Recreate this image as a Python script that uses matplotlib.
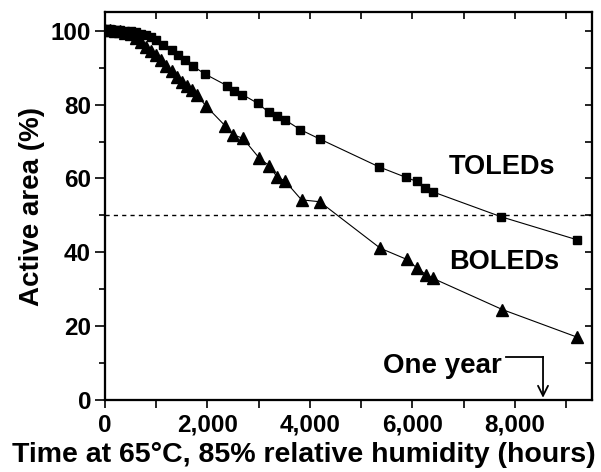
import matplotlib
matplotlib.use("Agg")
import matplotlib.pyplot as plt
from matplotlib.ticker import MultipleLocator, FuncFormatter

plt.rcParams['font.family'] = ['Liberation Sans', 'DejaVu Sans']
plt.rcParams['font.weight'] = 'bold'

# TOLED (squares)
toled_hours = [0, 100, 200, 300, 400, 500, 600, 700, 800, 900, 1000, 1136, 1300, 1429,
               1559, 1721, 1949, 2384, 2520, 2684, 2988, 3197, 3359, 3509, 3815, 4205,
               5355, 5873, 6086, 6253, 6394, 7737, 9212]
toled_area = [100.5, 100.5, 100.3, 100.1, 100.0, 99.8, 99.6, 99.2, 98.8, 98.3, 97.5, 96.2,
              94.9, 93.5, 92.1, 90.4, 88.3, 85.1, 83.6, 82.7, 80.3, 77.9, 76.8, 75.9, 73.2,
              70.6, 63.1, 60.3, 59.2, 57.5, 56.4, 49.6, 43.4]

# BOLED (triangles)
boled_hours = [0, 100, 200, 300, 400, 500, 600, 700, 800, 900, 1000, 1100, 1200, 1300,
               1400, 1500, 1600, 1700, 1800, 1979, 2349, 2505, 2690, 3012, 3210, 3363, 3509,
               3836, 4191, 5374, 5887, 6086, 6273, 6394, 7756, 9220]
boled_area = [100.3, 100.2, 100.0, 99.8, 99.5, 99.0, 98.0, 97.0, 95.5, 94.5, 93.3, 92.0,
              90.5, 89.0, 87.5, 86.0, 85.0, 84.0, 82.5, 79.5, 74.2, 71.8, 70.9, 65.5, 63.4,
              60.3, 59.4, 54.2, 53.7, 41.1, 38.1, 35.8, 33.9, 33.0, 24.5, 17.0]

x_ticks = [0, 2000, 4000, 6000, 8000]
y_ticks = [0, 20, 40, 60, 80, 100]
half_life = 50
one_year = 8550

fig = plt.figure(figsize=(6.01, 4.72), dpi=100)
ax = fig.add_axes([0.1747, 0.1525, 0.8098, 0.8215])

ax.plot(toled_hours, toled_area, color='black', lw=0.8, zorder=2)
ax.plot(toled_hours, toled_area, ls='none', marker='s', ms=5.8, color='black', zorder=3)
ax.plot(boled_hours, boled_area, color='black', lw=0.8, zorder=2)
ax.plot(boled_hours, boled_area, ls='none', marker='^', ms=8.5, color='black', zorder=3)

ax.axhline(half_life, color='black', lw=1.0, ls=(0, (3, 3)), zorder=1)

ax.set_xlim(0, 9500)
ax.set_ylim(0, 105)

ax.set_xticks(x_ticks)
ax.xaxis.set_minor_locator(MultipleLocator(1000))
ax.set_yticks(y_ticks)
ax.yaxis.set_minor_locator(MultipleLocator(10))
ax.xaxis.set_major_formatter(FuncFormatter(lambda v, p: f"{int(v):,}"))

ax.tick_params(axis='both', which='both', direction='out', width=1.2, labelsize=17.5)
ax.tick_params(axis='y', which='major', length=7, pad=3)
ax.tick_params(axis='y', which='minor', length=4)
ax.tick_params(axis='x', which='both', length=6, pad=4)
for lab in ax.get_xticklabels() + ax.get_yticklabels():
    lab.set_fontweight('bold')

for s in ax.spines.values():
    s.set_linewidth(1.5)

# top and right inward ticks
axr = ax.twinx()
axr.set_ylim(ax.get_ylim())
axr.yaxis.set_major_locator(MultipleLocator(10))
axr.tick_params(axis='y', direction='in', length=5, width=1.2, labelright=False)
axt = ax.twiny()
axt.set_xlim(ax.get_xlim())
axt.xaxis.set_major_locator(MultipleLocator(1000))
axt.tick_params(axis='x', direction='in', length=5, width=1.2, labeltop=False)
for a in (axr, axt):
    for s in a.spines.values():
        s.set_linewidth(1.5)

fig.text(304 / 601, 1 - 455 / 472, "Time at 65\u00b0C, 85% relative humidity (hours)",
         fontsize=20.5, fontweight='bold', ha='center', va='center')
ax.set_ylabel("Active area (%)", fontsize=20, fontweight='bold', labelpad=4)

ax.text(7750, 63.1, "TOLEDs", fontsize=19.5, fontweight='bold', ha='center', va='center')
ax.text(7790, 37.4, "BOLEDs", fontsize=19.5, fontweight='bold', ha='center', va='center')
ax.text(7750, 9.2, "One year", fontsize=20, fontweight='bold', ha='right', va='center')

ax.plot([7820, one_year], [11.7, 11.7], color='black', lw=1.3)
ax.annotate("", xy=(one_year, 0.6), xytext=(one_year, 11.7),
            arrowprops=dict(arrowstyle='->', color='black', lw=1.3,
                            shrinkA=0, shrinkB=0, mutation_scale=18))

fig.savefig("out.png", dpi=100)
